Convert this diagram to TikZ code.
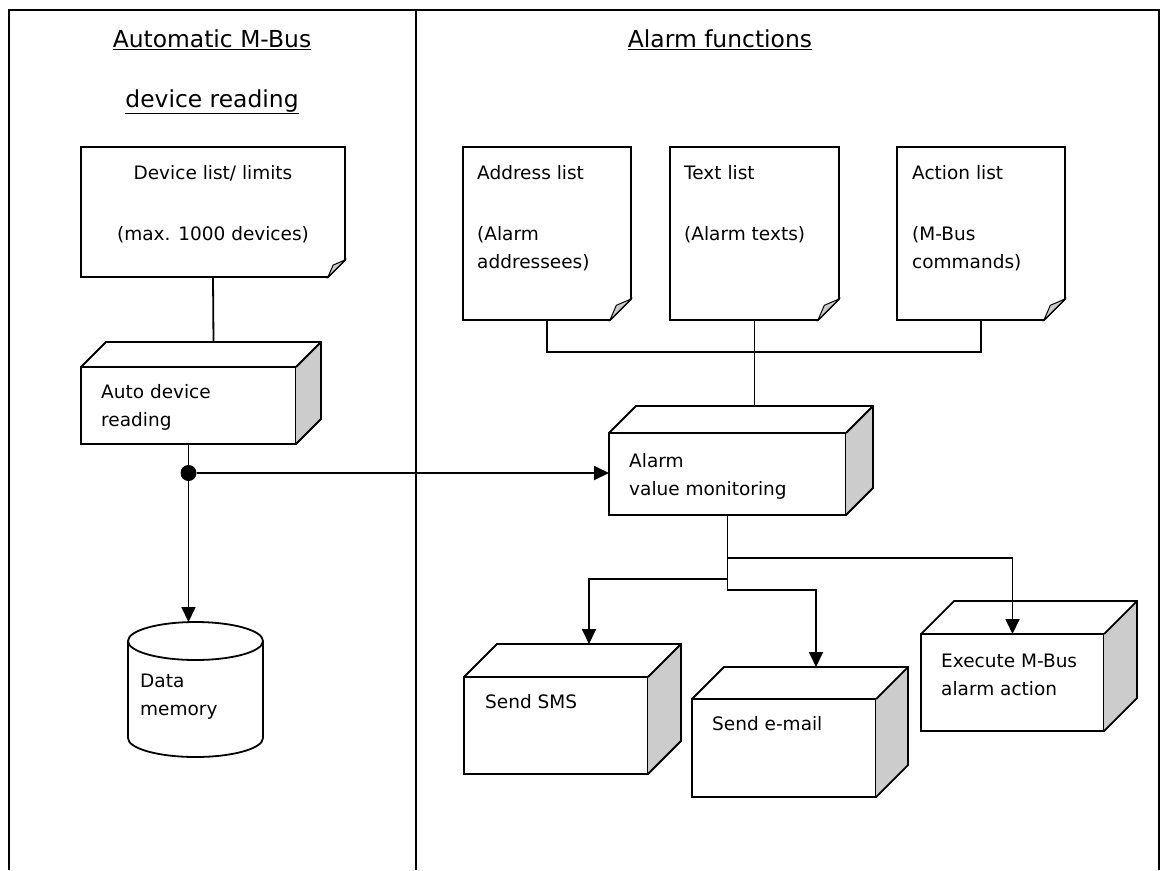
\documentclass[tikz,border=0pt]{standalone}
\usepackage{fontspec}
\setmainfont{DejaVu Sans}
\usetikzlibrary{arrows.meta,calc}

\newcommand{\txtsize}{\fontsize{18.5}{28}\selectfont}
\newcommand{\ttlsize}{\fontsize{23.4}{28}\selectfont}

% 3D box: the node is the front face, top and side faces are added
\newcommand{\cuboid}[2]{%
  \fill[gray!40] (#1.north east) -- ++(#2,-#2) -- ($(#1.south east)+(#2,-#2)$) -- (#1.south east) -- cycle;
  \draw[outline] (#1.north west) -- ++(#2,-#2) -- ($(#1.north east)+(#2,-#2)$)
    -- ($(#1.south east)+(#2,-#2)$) -- (#1.south east);
  \draw[outline] (#1.north east) -- ++(#2,-#2);
}
% sheet with a folded corner
\newcommand{\docpage}[2]{%
  \draw[outline,fill=white] (#1.north west) -- (#1.north east) -- ($(#1.south east)+(0,-#2)$)
    -- ($(#1.south east)+(-#2,0)$) -- (#1.south west) -- cycle;
  \draw[line width=1pt,fill=gray!40] ($(#1.south east)+(0,-#2)$) -- ($(#1.south east)+(-#2,0)$)
    -- ($(#1.south east)+(-0.7*#2,-0.7*#2)$) -- cycle;
}

\begin{document}
\begin{tikzpicture}[x=1pt,y=-1pt,
    outline/.style={line width=1.8pt},
    frame/.style={line width=1.4pt},
    cube/.style={draw,line width=1.8pt,fill=white,inner sep=0pt,outer sep=0pt},
    page/.style={inner sep=0pt,outer sep=0pt},
    txt/.style={font=\txtsize,inner sep=0pt,align=left},
    ttl/.style={font=\ttlsize,inner sep=0pt},
    link/.style={line width=1.8pt},
    arr/.style={link,-{Triangle[length=15pt,width=14pt]}},
    dot/.style={circle,fill,inner sep=0pt,minimum size=16pt}]
  \useasboundingbox (0,0) rectangle (1161,870);

  % frame
  \draw[frame] (9,870) -- (9,10) -- (1159,10) -- (1159,870);
  \draw[frame] (416,10) -- (416,870);

  % headings
  \node[ttl,anchor=base] (ttlA) at (212,47) {\underline{Automatic M-Bus}};
  \node[ttl,anchor=base] (ttlB) at (212,107) {\underline{device reading}};
  \node[ttl,anchor=base] (ttlC) at (720,47) {\underline{Alarm functions}};

  % lists
  \node[page,minimum width=264pt,minimum height=130pt] (devlist) at (213,212) {};
  \node[page,minimum width=168pt,minimum height=173pt] (addr) at (547,233.5) {};
  \node[page,minimum width=169pt,minimum height=173pt] (txtlist) at (754.5,233.5) {};
  \node[page,minimum width=168pt,minimum height=173pt] (act) at (981,233.5) {};
  \docpage{devlist}{17}
  \docpage{addr}{21}
  \docpage{txtlist}{21}
  \docpage{act}{21}
  % base of a multi-line node = last line
  \node[txt,align=center,anchor=base] (devT) at (213,240) {Device list/ limits\\[33pt](max. 1000 devices)};
  \node[txt,anchor=base west] (addrT) at (477,268) {Address list\\[33pt](Alarm\\addressees)};
  \node[txt,anchor=base west] (txtT) at (684,240) {Text list\\[33pt](Alarm texts)};
  \node[txt,anchor=base west] (actT) at (912,268) {Action list\\[33pt](M-Bus\\commands)};

  % boxes
  \node[cube,minimum width=215pt,minimum height=77pt] (auto) at (188.5,405.5) {};
  \node[cube,minimum width=237pt,minimum height=82pt] (alarm) at (727.5,474) {};
  \node[cube,minimum width=184pt,minimum height=97pt] (sms) at (556,725.5) {};
  \node[cube,minimum width=184pt,minimum height=98pt] (mail) at (784,748) {};
  \node[cube,minimum width=183pt,minimum height=97pt] (exec) at (1012.5,682.5) {};
  \cuboid{auto}{25}
  \cuboid{alarm}{27}
  \cuboid{sms}{33}
  \cuboid{mail}{32}
  \cuboid{exec}{33}
  \node[txt,anchor=base west] (autoT) at (101,426) {Auto device\\reading};
  \node[txt,anchor=base west] (alarmT) at (629,495) {Alarm\\value monitoring};
  \node[txt,anchor=base west] (smsT) at (485,708) {Send SMS};
  \node[txt,anchor=base west] (mailT) at (712,730) {Send e-mail};
  \node[txt,anchor=base west] (execT) at (941,695) {Execute M-Bus\\alarm action};

  % data memory
  \node[page,minimum width=135pt,minimum height=135pt] (mem) at (195.5,689.5) {};
  \draw[outline,fill=white] ($(mem.north west)+(0,19)$) -- ($(mem.south west)+(0,-19)$)
    arc[start angle=180,end angle=360,x radius=67.5pt,y radius=19pt] -- ($(mem.north east)+(0,19)$);
  \draw[outline,fill=white] ($(mem.north)+(0,19)$) ellipse[x radius=67.5pt,y radius=19pt];
  \node[txt,anchor=base west] (memT) at (140,715) {Data\\memory};

  % connectors
  \draw[link] (devlist.south) -- ($(auto.north)+(25,-25)$);
  \coordinate (bus) at (txtlist.south |- 0,352);
  \draw[link] (addr.south) |- (bus) -| (act.south);
  \draw[link] (txtlist.south) -- ($(alarm.north)+(27,-27)$);
  \node[dot] (jn) at ($(auto.south)+(0,29)$) {};
  \draw[link] (auto.south) -- (jn);
  \draw[arr] (jn) -- (jn -| alarm.west);
  \draw[arr] (jn) -- (jn |- mem.north);
  \draw[arr] (alarm.south) -- ++(0,64) -| ($(sms.north)+(33,-33)$);
  \draw[arr] (alarm.south) -- ++(0,75) -| ($(mail.north)+(32,-32)$);
  \draw[arr] (alarm.south) -- ++(0,43) -| (exec.north);
\end{tikzpicture}
\end{document}
